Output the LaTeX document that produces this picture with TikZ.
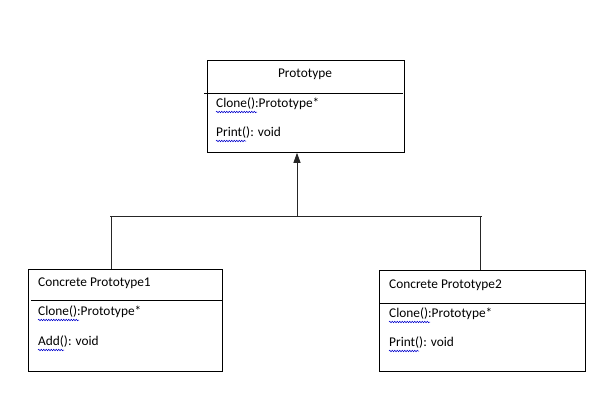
\documentclass[tikz,border=0pt]{standalone}
\usepackage{fontspec}
\setmainfont{Carlito}
\usetikzlibrary{arrows.meta,decorations.pathmorphing}
\begin{document}
\begin{tikzpicture}[x=1bp,y=-1bp,
  box/.style={draw=black,line width=0.8bp,minimum width=#1,anchor=north west,inner sep=0pt},
  txt/.style={anchor=west,inner sep=0pt,font=\fontsize{13.4}{15}\selectfont},
  conn/.style={draw=black!85,line width=0.9bp},
  squig/.style={draw=blue!80!black,line width=0.5bp,decorate,decoration={snake,amplitude=0.8bp,segment length=2.5bp}}]
\useasboundingbox (0,0) rectangle (606,410);
% top box
\node[box=197bp,minimum height=92bp] (top) at (207,60) {};
\coordinate (tdl) at (204,93);
\coordinate (tdr) at (403,93);
\draw[line width=0.8bp] (tdl) -- (tdr);
\node[anchor=center,inner sep=0pt,font=\fontsize{13.4}{15}\selectfont] (ttitle) at (305,74) {Prototype};
\node[txt] (tclone) at (216,104) {Clone():Prototype*};
\node[txt] (tprint) at (216,133) {Print(): void};
% left box
\node[box=194bp,minimum height=102bp] (left) at (28,269) {};
\coordinate (ldl) at (31,300);
\coordinate (ldr) at (222,300);
\draw[line width=0.8bp] (ldl) -- (ldr);
\node[txt] (ltitle) at (38,283) {Concrete Prototype1};
\node[txt] (lclone) at (38,312) {Clone():Prototype*};
\node[txt] (ladd) at (38,342) {Add(): void};
% right box
\node[box=206bp,minimum height=101bp] (right) at (379,270) {};
\coordinate (rdl) at (379,303);
\coordinate (rdr) at (585,303);
\draw[line width=0.8bp] (rdl) -- (rdr);
\node[txt] (rtitle) at (389,285) {Concrete Prototype2};
\node[txt] (rclone) at (389,314) {Clone():Prototype*};
\node[txt] (rprint) at (389,343) {Print(): void};
% squiggles
\coordinate (s1a) at (216,112); \coordinate (s1b) at (257,112);
\coordinate (s2a) at (216,141); \coordinate (s2b) at (246,141);
\coordinate (s3a) at (38,320); \coordinate (s3b) at (79,320);
\coordinate (s4a) at (38,350); \coordinate (s4b) at (64,350);
\coordinate (s5a) at (389,322); \coordinate (s5b) at (430,322);
\coordinate (s6a) at (389,351); \coordinate (s6b) at (419,351);
\foreach \a/\b in {s1a/s1b,s2a/s2b,s3a/s3b,s4a/s4b,s5a/s5b,s6a/s6b}
  \draw[squig] (\a) -- (\b);
% connectors
\coordinate (hl) at (110,216);
\coordinate (hm) at (297,216);
\coordinate (hr) at (482,216);
\coordinate (lv) at (111,216);
\coordinate (rv) at (480,216);
\draw[conn] (hl) -- (hr);
\draw[conn,-{Triangle[width=7bp,length=10bp]}] (hm) -- (hm |- top.south);
\draw[conn] (lv) -- (lv |- left.north);
\draw[conn] (rv) -- (rv |- right.north);
\end{tikzpicture}
\end{document}
